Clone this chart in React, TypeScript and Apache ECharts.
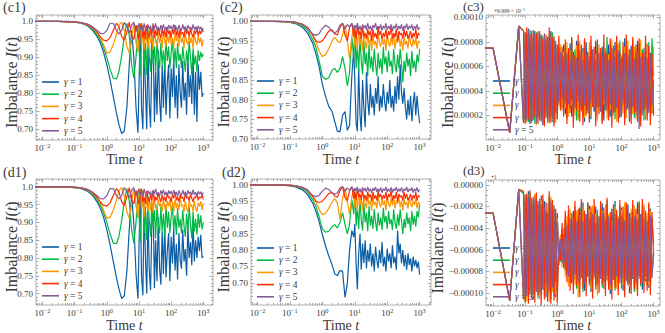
import React, { useEffect, useRef } from 'react';
import * as echarts from 'echarts';

// ---------- time grids ----------
const T = [0.005, 0.032, 0.063, 0.1, 0.16, 0.25, 0.35, 0.5, 0.63, 0.79,
  1, 1.26, 1.58, 2, 2.4, 2.9, 3.5, 4.2, 5, 5.9,
  6.9, 8.1, 9.3, 10, 11, 12, 13.2, 14.5, 15.8, 17.4,
  19, 20.9, 22.9, 25, 27.5, 30.2, 33, 36.3, 39.8, 43.7,
  47.9, 52.5, 57.5, 63.1, 69.2, 75.9, 83.2, 91.2, 100, 110,
  120, 132, 145, 158, 174, 191, 209, 229, 251, 275,
  302, 331, 363, 398, 437, 479, 525, 575, 631, 692,
  759, 832, 912, 1000];

const T3 = [0.004, 0.01, 0.033, 0.063, 0.089, 0.1, 0.112, 0.126, 0.141, 0.158,
  0.178, 0.2, 0.224, 0.251, 0.282, 0.316, 0.355, 0.398, 0.447, 0.501,
  0.562, 0.631, 0.708, 0.794, 0.891, 1, 1.12, 1.26, 1.41, 1.58,
  1.78, 2, 2.24, 2.51, 2.82, 3.16, 3.55, 3.98, 4.47, 5.01,
  5.62, 6.31, 7.08, 7.94, 8.91, 10, 11.2, 12.6, 14.1, 15.8,
  17.8, 20, 22.4, 25.1, 28.2, 31.6, 35.5, 39.8, 44.7, 50.1,
  56.2, 63.1, 70.8, 79.4, 89.1, 100, 112, 126, 141, 158,
  178, 200, 224, 251, 282, 316, 355, 398, 447, 501,
  562, 631, 708, 794, 891, 1000];

// ---------- (c1) ----------
const c1g1 = [1.000,1.000,0.999,0.998,0.995,0.988,0.977,0.958,0.940,0.915,
  0.880,0.838,0.792,0.745,0.712,0.688,0.695,0.760,0.880,0.975,
  0.900,0.760,0.690,0.820,0.990,0.760,0.700,0.955,0.820,0.700,
  0.930,0.770,0.705,0.900,0.960,0.720,0.860,0.740,0.920,0.780,
  0.720,0.880,0.760,0.900,0.740,0.830,0.880,0.730,0.870,0.790,
  0.900,0.760,0.850,0.730,0.880,0.800,0.760,0.890,0.780,0.830,
  0.740,0.900,0.790,0.850,0.770,0.910,0.740,0.860,0.720,0.880,
  0.810,0.860,0.790,0.800];
const c1g2 = [1.000,1.000,0.999,0.998,0.996,0.990,0.980,0.963,0.948,0.928,
  0.900,0.868,0.842,0.840,0.862,0.905,0.960,0.995,0.960,0.880,
  0.843,0.900,0.990,0.930,0.850,0.960,0.990,0.870,0.940,0.850,
  0.980,0.900,0.860,0.960,0.880,0.930,0.860,0.950,0.900,0.870,
  0.940,0.880,0.920,0.865,0.950,0.890,0.930,0.870,0.910,0.950,
  0.880,0.925,0.870,0.940,0.890,0.910,0.870,0.930,0.895,0.860,
  0.920,0.880,0.945,0.900,0.850,0.925,0.880,0.905,0.860,0.920,
  0.890,0.915,0.900,0.910];
const c1g3 = [1.000,1.000,0.999,0.998,0.996,0.991,0.983,0.968,0.955,0.935,
  0.912,0.915,0.935,0.965,0.990,0.998,0.975,0.930,0.912,0.950,
  0.995,0.940,0.915,0.980,0.995,0.930,0.970,0.920,0.985,0.945,
  0.925,0.975,0.940,0.960,0.920,0.980,0.945,0.930,0.970,0.940,
  0.960,0.925,0.975,0.945,0.930,0.965,0.940,0.970,0.935,0.955,
  0.925,0.970,0.945,0.960,0.930,0.975,0.940,0.955,0.925,0.965,
  0.945,0.935,0.970,0.940,0.955,0.925,0.965,0.945,0.935,0.960,
  0.940,0.955,0.930,0.950];
const c1g4 = [1.000,1.000,0.999,0.999,0.997,0.992,0.985,0.970,0.958,0.948,
  0.946,0.955,0.975,0.995,0.985,0.958,0.948,0.970,0.998,0.960,
  0.950,0.990,0.965,0.950,0.985,0.995,0.955,0.975,0.950,0.990,
  0.965,0.955,0.980,0.960,0.995,0.955,0.975,0.960,0.985,0.965,
  0.955,0.980,0.960,0.975,0.955,0.985,0.965,0.975,0.955,0.980,
  0.965,0.990,0.960,0.975,0.955,0.980,0.965,0.970,0.955,0.985,
  0.965,0.975,0.960,0.980,0.965,0.955,0.975,0.965,0.985,0.960,
  0.975,0.965,0.980,0.970];
const c1g5 = [1.000,1.000,1.000,0.999,0.997,0.993,0.986,0.975,0.967,0.966,
  0.975,0.995,0.995,0.975,0.965,0.975,0.998,0.985,0.968,0.990,
  0.998,0.972,0.985,0.995,0.975,0.990,0.970,0.995,0.980,0.972,
  0.992,0.978,0.988,0.970,0.990,0.980,0.995,0.975,0.985,0.972,
  0.990,0.978,0.992,0.975,0.985,0.972,0.990,0.980,0.988,0.975,
  0.992,0.978,0.985,0.972,0.990,0.980,0.975,0.992,0.978,0.986,
  0.972,0.990,0.980,0.985,0.975,0.992,0.978,0.985,0.972,0.988,
  0.978,0.985,0.975,0.982];

// ---------- (c2) ----------
const c2g1 = [1.000,1.000,0.999,0.997,0.993,0.984,0.970,0.945,0.918,0.885,
  0.840,0.808,0.783,0.770,0.745,0.720,0.718,0.760,0.770,0.722,
  0.735,0.860,0.930,0.850,0.740,0.720,0.880,0.760,0.720,0.850,
  0.780,0.730,0.870,0.800,0.760,0.840,0.780,0.810,0.760,0.830,
  0.790,0.860,0.770,0.810,0.780,0.840,0.795,0.770,0.820,0.790,
  0.850,0.780,0.810,0.770,0.835,0.790,0.860,0.800,0.890,0.820,
  0.790,0.830,0.780,0.750,0.800,0.760,0.810,0.745,0.790,0.820,
  0.760,0.810,0.770,0.740];
const c2g2 = [1.000,1.000,0.999,0.998,0.995,0.988,0.977,0.955,0.935,0.900,
  0.860,0.852,0.856,0.875,0.880,0.870,0.880,0.910,0.880,0.835,
  0.870,0.960,0.905,0.990,0.880,0.940,0.870,0.960,0.900,0.865,
  0.950,0.890,0.920,0.860,0.940,0.880,0.910,0.870,0.930,0.890,
  0.860,0.920,0.880,0.905,0.865,0.935,0.890,0.910,0.870,0.925,
  0.885,0.900,0.865,0.930,0.890,0.870,0.915,0.880,0.930,0.895,
  0.845,0.900,0.870,0.920,0.885,0.905,0.860,0.925,0.880,0.900,
  0.870,0.915,0.895,0.930];
const c2g3 = [1.000,1.000,0.999,0.998,0.996,0.991,0.982,0.965,0.948,0.925,
  0.910,0.915,0.930,0.950,0.960,0.950,0.945,0.965,0.990,0.950,
  0.905,0.960,0.990,0.935,0.975,0.925,0.985,0.940,0.960,0.925,
  0.975,0.945,0.930,0.970,0.940,0.955,0.925,0.965,0.940,0.950,
  0.930,0.970,0.945,0.935,0.960,0.940,0.955,0.925,0.965,0.945,
  0.935,0.960,0.940,0.970,0.930,0.955,0.945,0.965,0.935,0.955,
  0.925,0.960,0.940,0.950,0.930,0.965,0.945,0.935,0.955,0.940,
  0.960,0.930,0.950,0.945];
const c2g4 = [1.000,1.000,0.999,0.999,0.997,0.992,0.985,0.965,0.950,0.946,
  0.950,0.962,0.975,0.978,0.968,0.965,0.985,0.995,0.965,0.950,
  0.985,0.995,0.960,0.980,0.955,0.990,0.965,0.975,0.955,0.985,
  0.960,0.970,0.955,0.980,0.965,0.975,0.950,0.980,0.960,0.970,
  0.955,0.985,0.965,0.975,0.955,0.970,0.960,0.980,0.955,0.975,
  0.965,0.985,0.955,0.970,0.960,0.980,0.950,0.975,0.965,0.970,
  0.955,0.980,0.960,0.975,0.955,0.965,0.975,0.955,0.970,0.960,
  0.980,0.955,0.970,0.965];
const c2g5 = [1.000,1.000,1.000,0.999,0.997,0.992,0.983,0.968,0.964,0.968,
  0.982,0.990,0.985,0.975,0.970,0.975,0.990,0.995,0.980,0.992,
  0.985,0.995,0.978,0.990,0.982,0.995,0.978,0.988,0.975,0.992,
  0.982,0.990,0.978,0.995,0.980,0.988,0.975,0.990,0.983,0.995,
  0.978,0.988,0.980,0.992,0.976,0.988,0.982,0.995,0.978,0.988,
  0.980,0.992,0.975,0.988,0.982,0.994,0.978,0.988,0.980,0.992,
  0.976,0.988,0.982,0.994,0.978,0.988,0.982,0.992,0.976,0.988,
  0.980,0.992,0.978,0.985];

// ---------- (d1) ----------
const d1g1 = [1.000,1.000,0.999,0.998,0.995,0.988,0.977,0.958,0.940,0.915,
  0.880,0.838,0.792,0.745,0.712,0.686,0.694,0.762,0.882,0.978,
  0.898,0.755,0.686,0.830,0.985,0.750,0.695,0.950,0.810,0.700,
  0.925,0.765,0.710,0.890,0.955,0.715,0.850,0.735,0.915,0.770,
  0.725,0.875,0.755,0.895,0.745,0.820,0.870,0.735,0.860,0.785,
  0.885,0.765,0.840,0.740,0.870,0.795,0.770,0.880,0.790,0.825,
  0.750,0.890,0.800,0.845,0.780,0.900,0.790,0.850,0.800,0.860,
  0.820,0.865,0.800,0.805];
const d1g2 = [1.000,1.000,0.999,0.998,0.996,0.990,0.980,0.963,0.948,0.928,
  0.900,0.868,0.842,0.840,0.862,0.905,0.960,0.995,0.960,0.880,
  0.842,0.900,0.990,0.925,0.845,0.960,0.990,0.870,0.945,0.850,
  0.975,0.905,0.860,0.955,0.885,0.935,0.855,0.950,0.895,0.870,
  0.945,0.875,0.925,0.860,0.950,0.885,0.930,0.870,0.915,0.945,
  0.880,0.920,0.865,0.940,0.885,0.910,0.870,0.935,0.890,0.860,
  0.925,0.875,0.945,0.895,0.855,0.930,0.875,0.910,0.865,0.925,
  0.885,0.920,0.880,0.900];
const d1g3 = [1.000,1.000,0.999,0.998,0.996,0.991,0.983,0.968,0.955,0.935,
  0.912,0.914,0.934,0.964,0.990,0.998,0.974,0.930,0.911,0.952,
  0.995,0.945,0.912,0.975,0.995,0.935,0.965,0.915,0.980,0.950,
  0.930,0.970,0.935,0.965,0.925,0.975,0.940,0.935,0.965,0.945,
  0.955,0.930,0.970,0.940,0.935,0.960,0.945,0.965,0.930,0.960,
  0.930,0.965,0.940,0.955,0.935,0.970,0.945,0.950,0.930,0.960,
  0.940,0.930,0.965,0.945,0.950,0.930,0.960,0.940,0.930,0.955,
  0.945,0.960,0.935,0.955];
const d1g4 = [1.000,1.000,0.999,0.999,0.997,0.992,0.985,0.970,0.958,0.948,
  0.946,0.955,0.975,0.995,0.985,0.958,0.948,0.972,0.998,0.962,
  0.952,0.990,0.960,0.952,0.980,0.995,0.958,0.970,0.952,0.988,
  0.968,0.958,0.978,0.962,0.990,0.958,0.972,0.962,0.982,0.968,
  0.958,0.978,0.962,0.972,0.958,0.982,0.968,0.972,0.958,0.978,
  0.968,0.985,0.962,0.972,0.958,0.978,0.968,0.972,0.958,0.982,
  0.968,0.972,0.962,0.978,0.968,0.958,0.972,0.968,0.982,0.962,
  0.972,0.968,0.978,0.965];
const d1g5 = [1.000,1.000,1.000,0.999,0.997,0.993,0.986,0.975,0.967,0.966,
  0.975,0.995,0.995,0.975,0.966,0.976,0.998,0.986,0.969,0.990,
  0.998,0.974,0.984,0.995,0.977,0.990,0.972,0.994,0.980,0.974,
  0.990,0.978,0.987,0.972,0.990,0.980,0.994,0.976,0.985,0.974,
  0.990,0.979,0.992,0.976,0.986,0.973,0.990,0.980,0.988,0.976,
  0.991,0.978,0.986,0.973,0.990,0.980,0.976,0.991,0.978,0.986,
  0.974,0.990,0.980,0.986,0.976,0.992,0.978,0.985,0.974,0.988,
  0.979,0.986,0.976,0.984];

// ---------- (d2) ----------
const d2g1 = [1.000,1.000,0.999,0.997,0.993,0.984,0.970,0.945,0.920,0.888,
  0.848,0.812,0.782,0.755,0.728,0.722,0.738,0.735,0.655,0.700,
  0.800,0.860,0.840,0.880,0.760,0.680,0.790,0.850,0.740,0.820,
  0.760,0.830,0.745,0.800,0.765,0.820,0.750,0.790,0.735,0.810,
  0.770,0.745,0.800,0.760,0.825,0.750,0.780,0.735,0.805,0.765,
  0.790,0.745,0.815,0.760,0.780,0.740,0.860,0.790,0.820,0.760,
  0.800,0.750,0.785,0.740,0.790,0.755,0.775,0.735,0.780,0.750,
  0.770,0.745,0.765,0.725];
const d2g2 = [1.000,1.000,0.999,0.998,0.995,0.988,0.977,0.955,0.935,0.903,
  0.865,0.855,0.858,0.872,0.878,0.868,0.885,0.915,0.878,0.850,
  0.880,0.955,0.910,0.985,0.875,0.935,0.865,0.955,0.895,0.860,
  0.945,0.885,0.915,0.858,0.935,0.875,0.905,0.865,0.925,0.885,
  0.858,0.915,0.875,0.900,0.862,0.930,0.885,0.905,0.865,0.920,
  0.880,0.895,0.862,0.925,0.885,0.865,0.910,0.875,0.925,0.890,
  0.850,0.895,0.868,0.915,0.880,0.900,0.858,0.920,0.878,0.905,
  0.872,0.920,0.900,0.940];
const d2g3 = [1.000,1.000,0.999,0.998,0.996,0.991,0.982,0.965,0.948,0.925,
  0.909,0.913,0.928,0.948,0.958,0.945,0.895,0.960,0.990,0.948,
  0.910,0.962,0.988,0.930,0.972,0.920,0.982,0.938,0.958,0.922,
  0.972,0.942,0.928,0.968,0.938,0.952,0.922,0.962,0.938,0.948,
  0.928,0.968,0.942,0.932,0.958,0.938,0.952,0.922,0.962,0.942,
  0.932,0.958,0.938,0.968,0.928,0.952,0.942,0.962,0.932,0.952,
  0.922,0.958,0.938,0.948,0.928,0.962,0.942,0.932,0.952,0.938,
  0.958,0.928,0.948,0.940];
const d2g4 = [1.000,1.000,0.999,0.999,0.997,0.992,0.985,0.965,0.950,0.946,
  0.950,0.962,0.974,0.976,0.966,0.962,0.982,0.995,0.962,0.952,
  0.982,0.994,0.958,0.978,0.955,0.988,0.962,0.972,0.955,0.982,
  0.958,0.968,0.952,0.978,0.962,0.972,0.950,0.978,0.958,0.968,
  0.952,0.982,0.962,0.972,0.955,0.968,0.958,0.978,0.952,0.972,
  0.962,0.982,0.952,0.968,0.958,0.978,0.950,0.972,0.962,0.968,
  0.952,0.978,0.958,0.972,0.952,0.962,0.972,0.952,0.968,0.958,
  0.978,0.952,0.968,0.962];
const d2g5 = [1.000,1.000,1.000,0.999,0.997,0.992,0.983,0.968,0.964,0.968,
  0.981,0.990,0.986,0.976,0.971,0.976,0.990,0.994,0.980,0.990,
  0.984,0.994,0.978,0.990,0.982,0.994,0.978,0.988,0.976,0.992,
  0.982,0.990,0.978,0.994,0.980,0.988,0.976,0.990,0.982,0.994,
  0.978,0.988,0.980,0.992,0.976,0.988,0.982,0.994,0.978,0.988,
  0.980,0.992,0.976,0.988,0.982,0.994,0.978,0.988,0.980,0.992,
  0.976,0.988,0.982,0.994,0.978,0.988,0.982,0.992,0.976,0.988,
  0.980,0.992,0.978,0.986];

// ---------- (c3): I(t) - 0.9999, in units of 1e-5 ----------
const c3g1 = [7.5,7.5,0.6,9.3,1.4,8.7,1.6,9.1,1.3,8.5,
  2.0,8.9,1.4,8.1,1.9,8.6,1.2,8.0,2.2,8.4,
  1.6,8.9,1.5,8.2,1.8,7.4,3.2,7.0,2.6,7.8,
  2.1,6.8,3.3,7.9,1.9,7.2,2.7,8.1,1.8,6.9,
  2.5,7.5,1.5,8.0,2.9,6.6,1.7,7.3,2.3,8.1,
  2.0,6.9,3.0,7.6,1.6,7.1,2.6,7.8,1.9,6.5,
  3.2,8.0,2.2,7.2,1.8,6.8,2.8,8.3,2.1,7.0,
  1.5,7.7,2.5,6.7,2.0,8.1,3.1,7.3,2.3,6.9,
  1.7,7.8,2.6,7.1,2.2,4.7];
const c3g2 = [7.5,7.5,0.6,9.3,8.9,1.6,8.7,1.5,9.0,1.9,
  8.3,1.3,8.8,1.8,7.9,1.5,8.5,2.1,8.2,1.4,
  8.6,2.0,8.8,1.4,8.1,1.7,7.3,2.5,7.0,3.0,
  7.7,1.8,6.9,2.6,8.3,2.2,7.4,1.6,7.9,2.9,
  6.8,1.9,8.2,2.4,7.1,1.7,7.6,3.1,6.7,2.0,
  8.0,2.7,7.3,1.5,6.9,2.4,8.4,1.9,7.2,2.6,
  6.6,1.7,7.8,2.9,8.1,2.2,7.0,1.6,7.7,2.5,
  6.9,2.1,8.2,1.8,7.1,2.7,7.9,2.0,7.4,1.6,
  6.8,2.8,8.0,2.2,8.3,5.2];
const c3g3 = [7.5,7.5,0.6,9.3,1.5,8.8,1.4,8.9,1.7,8.7,
  1.6,8.5,1.2,8.9,1.8,8.2,1.5,8.4,1.9,7.8,
  1.3,8.7,1.6,8.5,1.4,7.5,2.8,7.8,2.4,7.2,
  2.6,8.0,1.9,7.3,2.8,6.8,2.0,7.7,1.6,8.1,
  2.3,7.2,1.8,6.9,2.6,8.0,1.9,7.4,2.8,7.0,
  1.6,7.8,2.3,6.8,2.9,7.5,1.7,7.0,2.4,8.2,
  2.0,7.3,1.5,7.9,2.6,6.9,2.2,7.6,1.8,8.1,
  2.5,7.0,2.1,7.6,1.7,6.8,2.6,8.2,2.0,7.2,
  1.8,7.9,2.4,6.9,2.1,7.6];
const c3g4 = [7.5,7.5,0.6,9.3,8.9,1.3,9.2,1.7,8.6,1.4,
  9.0,1.9,8.7,1.3,8.9,1.6,8.3,1.1,8.6,1.8,
  9.2,1.4,8.4,1.1,7.8,1.7,8.5,2.4,7.6,1.9,
  8.2,1.3,7.5,2.2,8.4,1.0,6.9,2.4,8.6,1.5,
  7.8,1.2,8.3,2.0,7.2,1.4,8.5,2.7,7.6,1.1,
  8.2,2.1,7.5,1.3,8.6,2.5,7.1,1.6,8.3,1.0,
  7.7,2.3,8.5,1.4,7.2,1.9,8.0,1.2,8.6,2.6,
  7.4,1.3,8.4,2.2,7.8,1.5,8.3,1.1,7.1,2.4,
  8.5,1.6,7.7,1.2,7.0,2.0];
const c3g5 = [7.5,7.5,0.6,9.3,1.4,8.8,1.6,9.0,1.5,8.9,
  1.7,8.6,1.4,8.8,1.6,8.5,1.3,8.7,1.8,8.3,
  1.5,8.8,1.7,8.4,2.2,7.8,3.0,7.2,3.3,6.8,
  3.0,7.1,2.9,6.6,3.2,7.0,2.6,6.7,3.1,7.3,
  2.4,6.5,2.8,7.0,2.2,6.8,3.0,7.4,2.5,6.6,
  2.7,7.1,2.3,6.9,3.1,7.2,2.4,6.5,2.9,7.5,
  2.2,6.8,2.6,7.3,2.0,6.7,3.0,7.1,2.4,6.9,
  1.8,7.4,2.7,6.6,2.3,7.2,0.9,6.8,2.1,7.5,
  2.6,6.7,2.2,7.0,2.8,4.9];

// ---------- (d3): I(t) - 1, in units of 1e-5 ----------
const d3g1 = [-2.6,-2.6,-10.7,-0.4,-10.5,-1.2,-10.2,-0.6,-9.8,-1.4,
  -10.6,-0.9,-9.5,-1.8,-10.3,-1.0,-9.7,-1.5,-10.4,-2.2,
  -10.1,-1.3,-9.6,-1.9,-10.4,-2.6,-7.4,-4.8,-7.0,-4.5,
  -7.6,-3.6,-8.4,-3.0,-9.1,-2.4,-8.7,-3.3,-9.5,-2.1,
  -8.2,-1.6,-9.8,-2.7,-8.5,-1.9,-9.9,-3.2,-8.1,-2.0,
  -9.4,-2.9,-8.3,-1.7,-9.6,-2.6,-8.8,-3.4,-10.1,-2.2,
  -8.0,-1.5,-9.3,-3.0,-8.6,-2.1,-9.8,-2.8,-8.2,-1.8,
  -10.0,-2.5,-8.7,-3.1,-9.2,-1.6,-8.4,-2.7,-9.7,-2.0,
  -8.9,-3.3,-9.5,-2.2,-8.1,-6.3];
const d3g2 = [-2.6,-2.6,-10.7,-0.4,-0.8,-10.9,-1.1,-10.4,-0.7,-10.0,
  -1.5,-9.6,-1.2,-10.5,-2.0,-9.9,-1.3,-10.2,-2.5,-9.4,
  -1.0,-10.6,-1.6,-10.3,-2.9,-9.8,-5.0,-7.1,-4.2,-7.3,
  -3.2,-8.2,-2.6,-9.0,-3.5,-8.3,-2.0,-9.6,-2.9,-8.8,
  -1.8,-9.9,-3.0,-8.4,-1.7,-9.3,-2.5,-8.6,-3.1,-9.7,
  -2.3,-8.0,-1.6,-9.5,-2.8,-8.9,-1.4,-9.2,-3.2,-8.5,
  -2.1,-9.8,-2.7,-8.3,-1.9,-9.6,-3.3,-8.7,-1.7,-9.1,
  -2.6,-8.4,-2.3,-9.9,-3.0,-8.2,-1.5,-9.4,-2.4,-8.8,
  -2.9,-9.3,-1.8,-8.6,-3.0,-5.5];
const d3g3 = [-2.6,-2.6,-10.7,-0.4,-10.6,-1.0,-10.8,-0.9,-9.9,-1.6,
  -10.3,-0.8,-9.8,-1.9,-10.6,-1.4,-9.5,-2.1,-10.0,-1.7,
  -10.8,-1.1,-9.9,-2.0,-10.2,-3.1,-6.8,-4.6,-7.6,-4.0,
  -8.5,-2.9,-9.4,-2.3,-8.0,-3.1,-9.2,-2.4,-10.4,-2.8,
  -8.6,-2.0,-9.1,-3.4,-8.3,-2.2,-9.6,-1.9,-8.7,-2.6,
  -10.2,-3.0,-8.2,-2.4,-9.4,-1.8,-8.9,-2.7,-9.7,-3.3,
  -8.4,-2.0,-9.6,-2.9,-8.1,-2.3,-9.3,-1.6,-8.8,-3.1,
  -9.4,-2.2,-8.5,-1.9,-9.8,-2.7,-8.3,-3.2,-9.0,-1.8,
  -8.7,-2.6,-9.3,-2.4,-8.6,-6.4];
const d3g4 = [-2.6,-2.6,-10.7,-0.4,-0.6,-10.8,-0.8,-11.0,-0.5,-10.5,
  -1.1,-10.9,-0.7,-10.2,-1.3,-11.1,-0.9,-10.6,-1.6,-10.8,
  -0.6,-11.0,-1.4,-10.7,-2.2,-10.9,-5.2,-7.0,-3.5,-7.7,
  -2.4,-9.0,-1.9,-9.8,-2.6,-10.1,-1.5,-9.3,-2.2,-10.4,
  -1.3,-9.6,-2.4,-10.3,-1.6,-9.1,-2.0,-10.5,-1.3,-9.4,
  -2.8,-10.0,-1.5,-9.2,-2.1,-10.3,-1.2,-9.7,-2.5,-10.6,
  -1.8,-9.5,-2.3,-10.2,-1.4,-9.0,-2.0,-10.4,-1.6,-9.3,
  -2.7,-10.1,-1.4,-9.6,-2.2,-10.3,-1.7,-9.2,-1.3,-10.0,
  -2.4,-9.8,-1.6,-10.2,-2.5,-6.6];
const d3g5 = [-2.6,-2.6,-10.7,-0.4,-10.6,-0.9,-10.3,-1.0,-10.1,-1.2,
  -10.2,-1.3,-9.9,-1.5,-10.0,-1.8,-9.6,-2.0,-9.3,-2.6,
  -9.8,-1.6,-9.5,-2.2,-9.0,-3.4,-6.9,-5.0,-7.2,-4.6,
  -7.9,-3.8,-8.5,-3.2,-8.8,-3.0,-8.3,-3.4,-9.0,-2.9,
  -8.6,-3.3,-9.1,-2.8,-8.4,-3.1,-8.9,-2.7,-8.5,-3.5,
  -9.2,-3.0,-8.7,-2.6,-9.0,-3.2,-8.4,-2.9,-9.3,-3.4,
  -8.8,-2.7,-8.5,-3.1,-9.1,-2.8,-8.6,-3.3,-8.9,-2.6,
  -9.2,-3.0,-8.4,-2.9,-9.0,-3.2,-8.7,-2.7,-9.1,-3.1,
  -8.5,-3.4,-8.9,-2.8,-8.6,-6.0];

// ---------- ticks / labels ----------
const NAMES = ['γ = 1', 'γ = 2', 'γ = 3', 'γ = 4', 'γ = 5'];
const COLORS = ['#0C5DA5', '#00B945', '#FF9500', '#FF2C00', '#845B97'];
const X_MAJOR = [0.01, 0.1, 1, 10, 100, 1000];
const Y_TICKS_A = [0.70, 0.75, 0.80, 0.85, 0.90, 0.95, 1.00];
const Y_TICKS_C3 = [2, 4, 6, 8, 10];
const Y_TICKS_D3 = [0, -2, -4, -6, -8, -10];

const FONT = "'Liberation Serif', 'DejaVu Serif', serif";
const TXT = '#3a3a3a';
const FRAME = '#999999';

const fmtA = (v: number) => (Math.abs(v - 1) < 1e-9 ? '1.0' : v.toFixed(2));
const fmtB = (v: number) => v.toFixed(2);
const fmtC3 = (v: number) => (v * 1e-5).toFixed(5);
const fmtD3 = (v: number) => (v * 1e-5).toFixed(5).replace('-', '\u2212');

function supLabel(v: number) {
  const e = Math.round(Math.log10(v));
  return '{b|10}{s|' + (e < 0 ? '\u2212' + -e : String(e)) + '}';
}
function logMinors(lo: number, hi: number) {
  const out: number[] = [];
  for (let n = -3; n <= 4; n++) for (let k = 2; k <= 9; k++) {
    const v = k * Math.pow(10, n);
    if (v > lo && v < hi) out.push(v);
  }
  return out;
}
function linMinors(lo: number, hi: number, step: number, major: number) {
  const out: number[] = [];
  const n0 = Math.ceil(lo / step - 1e-9), n1 = Math.floor(hi / step + 1e-9);
  for (let n = n0; n <= n1; n++) {
    const v = n * step;
    const r = v / major;
    if (Math.abs(r - Math.round(r)) < 1e-6) continue;
    out.push(+v.toFixed(6));
  }
  return out;
}

type Panel = {
  tag: string; tagXY: [number, number]; tagSize: number;
  grid: { left: number; top: number; width: number; height: number };
  xr: [number, number];
  ymin: number; ymax: number; yTicks: number[]; yFmt: (v: number) => string;
  minorStep: number; majorStep: number;
  t: number[]; data: number[][];
  legend: [number, number]; legendBehind: boolean;
  ylabX: number; xlabY: number;
  offset?: { text: string; x: number; y: number };
};

const PANELS: Panel[] = [
  { tag: '(c1)', tagXY: [3, 0], tagSize: 14, grid: { left: 36, top: 15, width: 177, height: 125 }, xr: [-2.2, 3.3],
    ymin: 0.670, ymax: 1.018, yTicks: Y_TICKS_A, yFmt: fmtA, minorStep: 0.01, majorStep: 0.05,
    t: T, data: [c1g1, c1g2, c1g3, c1g4, c1g5], legend: [42, 77], legendBehind: false, ylabX: 11, xlabY: 159 },
  { tag: '(c2)', tagXY: [220, 0], tagSize: 14, grid: { left: 251, top: 15, width: 180, height: 124 }, xr: [-2.2, 3.35],
    ymin: 0.700, ymax: 1.016, yTicks: Y_TICKS_A, yFmt: fmtB, minorStep: 0.01, majorStep: 0.05,
    t: T, data: [c2g1, c2g2, c2g3, c2g4, c2g5], legend: [257, 76], legendBehind: false, ylabX: 223, xlabY: 159 },
  { tag: '(c3)', tagXY: [463, 0], tagSize: 13, grid: { left: 486, top: 15, width: 174, height: 125 }, xr: [-2.22, 3.2],
    ymin: 0, ymax: 10.2, yTicks: Y_TICKS_C3, yFmt: fmtC3, minorStep: 0.5, majorStep: 2,
    t: T3, data: [c3g1, c3g2, c3g3, c3g4, c3g5], legend: [493, 76], legendBehind: true, ylabX: 447, xlabY: 159,
    offset: { text: '{a|+9.999 × 10}{s|\u22121}', x: 494, y: 11 } },
  { tag: '(d1)', tagXY: [3, 165], tagSize: 14, grid: { left: 36, top: 179, width: 177, height: 126 }, xr: [-2.2, 3.3],
    ymin: 0.668, ymax: 1.022, yTicks: Y_TICKS_A, yFmt: fmtA, minorStep: 0.01, majorStep: 0.05,
    t: T, data: [d1g1, d1g2, d1g3, d1g4, d1g5], legend: [42, 242], legendBehind: false, ylabX: 11, xlabY: 325 },
  { tag: '(d2)', tagXY: [222, 165], tagSize: 14, grid: { left: 251, top: 179, width: 180, height: 126 }, xr: [-2.2, 3.35],
    ymin: 0.632, ymax: 1.018, yTicks: Y_TICKS_A, yFmt: fmtB, minorStep: 0.01, majorStep: 0.05,
    t: T, data: [d2g1, d2g2, d2g3, d2g4, d2g5], legend: [257, 243], legendBehind: false, ylabX: 223, xlabY: 325 },
  { tag: '(d3)', tagXY: [463, 164], tagSize: 13, grid: { left: 486, top: 180, width: 174, height: 126 }, xr: [-2.22, 3.2],
    ymin: -11.2, ymax: 0.45, yTicks: Y_TICKS_D3, yFmt: fmtD3, minorStep: 0.5, majorStep: 2,
    t: T3, data: [d3g1, d3g2, d3g3, d3g4, d3g5], legend: [493, 243], legendBehind: true, ylabX: 437, xlabY: 325,
    offset: { text: '{a|+1}', x: 491, y: 177 } },
];

function buildOption() {
  const grid: any[] = [], xAxis: any[] = [], yAxis: any[] = [], series: any[] = [], legend: any[] = [], graphic: any[] = [];
  const tickStyle = { color: FRAME, width: 0.8 };
  PANELS.forEach((p, i) => {
    grid.push({ ...p.grid, show: true, borderColor: FRAME, borderWidth: 0.8, backgroundColor: 'transparent', containLabel: false, outerBoundsMode: 'none' });
    const xmin = Math.pow(10, p.xr[0]), xmax = Math.pow(10, p.xr[1]);
    const xMinor = logMinors(xmin, xmax);
    const xb = { type: 'log', logBase: 10, gridIndex: i, min: xmin, max: xmax,
      axisLine: { show: false, onZero: false }, splitLine: { show: false }, minorTick: { show: false }, minorSplitLine: { show: false } };
    const xLab = { show: true, customValues: X_MAJOR, margin: 2.5, formatter: supLabel,
      rich: { b: { fontFamily: FONT, fontSize: 9, color: TXT }, s: { fontFamily: FONT, fontSize: 6.3, color: TXT, padding: [0, 0, 5, 0] } } };
    xAxis.push({ ...xb, position: 'bottom', axisTick: { show: true, inside: true, length: 3.5, customValues: X_MAJOR, lineStyle: tickStyle }, axisLabel: xLab });
    xAxis.push({ ...xb, position: 'bottom', axisTick: { show: true, inside: true, length: 2, customValues: xMinor, lineStyle: tickStyle }, axisLabel: { show: false } });
    xAxis.push({ ...xb, position: 'top', axisTick: { show: true, inside: true, length: 3.5, customValues: X_MAJOR, lineStyle: tickStyle }, axisLabel: { show: false } });
    xAxis.push({ ...xb, position: 'top', axisTick: { show: true, inside: true, length: 2, customValues: xMinor, lineStyle: tickStyle }, axisLabel: { show: false } });

    const yMinor = linMinors(p.ymin, p.ymax, p.minorStep, p.majorStep);
    const yb = { type: 'value', gridIndex: i, min: p.ymin, max: p.ymax, scale: true,
      axisLine: { show: false, onZero: false }, splitLine: { show: false }, minorTick: { show: false } };
    yAxis.push({ ...yb, position: 'left', axisTick: { show: true, inside: true, length: 3.5, customValues: p.yTicks, lineStyle: tickStyle },
      axisLabel: { show: true, customValues: p.yTicks, margin: 3, formatter: p.yFmt, fontFamily: FONT, fontSize: 9, color: TXT } });
    yAxis.push({ ...yb, position: 'left', axisTick: { show: true, inside: true, length: 2, customValues: yMinor, lineStyle: tickStyle }, axisLabel: { show: false } });
    yAxis.push({ ...yb, position: 'right', axisTick: { show: true, inside: true, length: 3.5, customValues: p.yTicks, lineStyle: tickStyle }, axisLabel: { show: false } });
    yAxis.push({ ...yb, position: 'right', axisTick: { show: true, inside: true, length: 2, customValues: yMinor, lineStyle: tickStyle }, axisLabel: { show: false } });

    p.data.forEach((vals, k) => {
      series.push({ type: 'line', name: NAMES[k], xAxisIndex: 4 * i, yAxisIndex: 4 * i,
        data: p.t.map((t, j) => [t, vals[j]]), showSymbol: false, symbol: 'none', silent: true, clip: true,
        lineStyle: { width: 1.2, color: COLORS[k] }, itemStyle: { color: COLORS[k] }, z: 2 });
    });

    legend.push({ data: NAMES, left: p.legend[0], top: p.legend[1], orient: 'vertical', icon: 'rect',
      itemWidth: 17, itemHeight: 1.6, itemGap: 2.2, padding: 0, selectedMode: false, z: p.legendBehind ? 1 : 5,
      formatter: (n: string) => '{i|γ}{r|' + n.slice(1) + '}',
      textStyle: { fontFamily: FONT, fontSize: 9.5, color: TXT,
        rich: { i: { fontFamily: FONT, fontSize: 9.5, fontStyle: 'italic', color: TXT }, r: { fontFamily: FONT, fontSize: 9.5, color: TXT } } } });

    graphic.push({ type: 'text', x: p.tagXY[0], y: p.tagXY[1], silent: true,
      style: { text: p.tag, fill: TXT, fontFamily: FONT, fontSize: p.tagSize, align: 'left', verticalAlign: 'top' } });
    graphic.push({ type: 'text', x: p.ylabX, y: p.grid.top + p.grid.height / 2 + 5, rotation: Math.PI / 2, silent: true,
      style: { text: '{r|Imbalance }{i|I}{r|(}{i|t}{r|)}', align: 'center', verticalAlign: 'middle',
        rich: { r: { fontFamily: FONT, fontSize: 16, fill: TXT }, i: { fontFamily: FONT, fontSize: 16, fontStyle: 'italic', fill: TXT } } } });
    graphic.push({ type: 'text', x: p.grid.left + p.grid.width / 2, y: p.xlabY, silent: true,
      style: { text: '{r|Time }{i|t}', align: 'center', verticalAlign: 'middle',
        rich: { r: { fontFamily: FONT, fontSize: 14, fill: TXT }, i: { fontFamily: FONT, fontSize: 14, fontStyle: 'italic', fill: TXT } } } });
    if (p.offset) {
      graphic.push({ type: 'text', x: p.offset.x, y: p.offset.y, silent: true,
        style: { text: p.offset.text, align: 'left', verticalAlign: 'middle',
          rich: { a: { fontFamily: FONT, fontSize: 5.5, fill: TXT }, s: { fontFamily: FONT, fontSize: 4, fill: TXT, padding: [0, 0, 3, 0] } } } });
    }
  });
  return { animation: false, backgroundColor: '#ffffff', grid, xAxis, yAxis, series, legend, graphic };
}

export default function App() {
  const ref = useRef<HTMLDivElement>(null);
  useEffect(() => {
    if (!ref.current) return;
    const chart = echarts.init(ref.current, undefined, { renderer: 'svg', width: 665, height: 333 });
    chart.setOption(buildOption() as any);
    return () => chart.dispose();
  }, []);
  return <div ref={ref} style={{ position: 'fixed', left: 0, top: 0, width: 665, height: 333, background: '#fff' }} />;
}
